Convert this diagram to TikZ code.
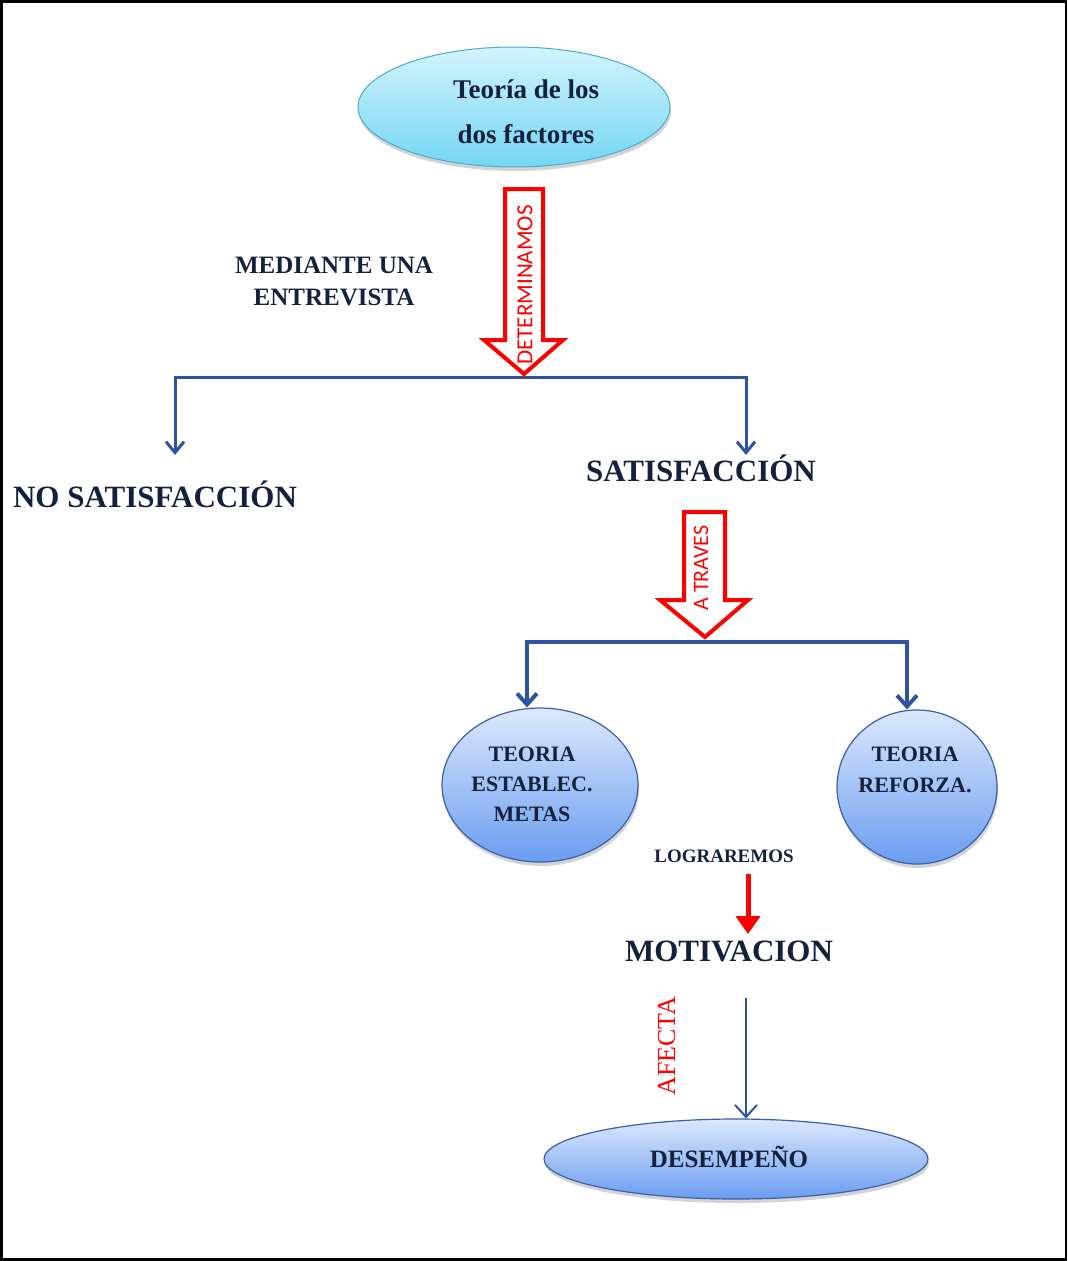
\documentclass[tikz,border=0pt]{standalone}
\usepackage{fontspec}
\setmainfont{Liberation Serif}
\newfontfamily\calibfont{Carlito}
\usetikzlibrary{shapes.geometric}
\usetikzlibrary{arrows.meta}
\usetikzlibrary{shadows}
\definecolor{navy}{HTML}{14213D}
\definecolor{linea}{HTML}{2E54A1}
\definecolor{cyanclaro}{HTML}{D2F4FD}
\definecolor{cyanoscuro}{HTML}{74D6F3}
\definecolor{cyanborde}{HTML}{4AABCB}
\definecolor{azulclaro}{HTML}{DCE8FC}
\definecolor{azuloscuro}{HTML}{6A9DF0}
\definecolor{azulborde}{HTML}{3A5FA8}

\begin{document}
\begin{tikzpicture}[x=1pt,y=-1pt,
    cian node/.style={ellipse,draw=cyanborde,line width=1pt,inner sep=0pt,top color=cyanclaro,bottom color=cyanoscuro,
      drop shadow={shadow xshift=1pt,shadow yshift=-4pt,opacity=0.35}},
    azul node/.style={ellipse,draw=azulborde,line width=1.2pt,inner sep=0pt,top color=azulclaro,bottom color=azuloscuro,
      drop shadow={shadow xshift=1pt,shadow yshift=-4pt,opacity=0.35},text=navy,align=center,font=\bfseries\fontsize{22}{30}\selectfont},
    texto/.style={text=navy,inner sep=0pt,align=center},
    grande/.style={text=navy,inner sep=0pt,anchor=base,font=\bfseries\fontsize{31}{35}\selectfont},
    hueco/.style={draw=red,line width=4pt,fill=white,line join=miter},
    vertical/.style={rotate=90,text=red,inner sep=0pt,font=\calibfont\fontsize{22}{22}\selectfont},
    rama/.style={draw=linea,line width=3pt,-{Straight Barb[length=11pt,width=18pt]}},
    rama gruesa/.style={draw=linea,line width=4pt,-{Straight Barb[length=11pt,width=20pt]}}]
  \useasboundingbox (0,0) rectangle (1068,1261);
  \draw[line width=2.5pt] (1.5,1.5) rectangle (1066,1259.5);

  % teoria y primera rama
  \node[cian node,minimum width=312pt,minimum height=120pt] (teoria) at (514,107) {};
  \node[texto,font=\bfseries\fontsize{27}{45}\selectfont] (teoriaTxt) at (526,112) {Teoría de los\\dos factores};
  \node[texto,font=\bfseries\fontsize{25}{32}\selectfont] (mediante) at (334,281) {MEDIANTE UNA\\ENTREVISTA};
  \coordinate (j1) at (524,377);
  \coordinate (noIn) at (175,455);
  \coordinate (siIn) at (746,455);
  \draw[rama] (j1) -| (noIn);
  \draw[rama] (j1) -| (siIn);
  \draw[hueco] (505,189) -- (543,189) -- (543,340) -- (563,340) -- (524,374) coordinate (punta1) -- (484,340) -- (505,340) -- cycle;
  \node[vertical,font=\calibfont\fontsize{23}{23}\selectfont] (determ) at (525,285) {DETERMINAMOS};
  \node[grande] (nosat) at (155,507) {NO SATISFACCIÓN};
  \node[grande] (sat) at (701,481) {SATISFACCIÓN};

  % segunda rama
  \node[azul node,minimum width=196pt,minimum height=154pt] (metas) at (540,785) {};
  \node[texto,font=\bfseries\fontsize{22}{30}\selectfont] (metasTxt) at (532,784) {TEORIA\\ESTABLEC.\\METAS};
  \node[azul node,minimum width=160pt,minimum height=154pt] (reforza) at (917,787) {};
  \node[texto,font=\bfseries\fontsize{22}{31}\selectfont] (reforzaTxt) at (915,770) {TEORIA\\REFORZA.};
  \coordinate (j2) at (705,642);
  \draw[rama gruesa] (j2) -| ([xshift=-13pt]metas.north);
  \draw[rama gruesa] (j2) -| ([xshift=-10pt]reforza.north);
  \draw[hueco] (684,512) -- (725,512) -- (725,600) -- (748,600) -- (705,637) coordinate (punta2) -- (660,600) -- (684,600) -- cycle;
  \node[vertical] (atraves) at (701,568) {A TRAVES};

  % motivacion y desempeno
  \node[texto,anchor=base,font=\bfseries\fontsize{19}{19}\selectfont] (lograr) at (724,862) {LOGRAREMOS};
  \coordinate (lograrOut) at (748,874);
  \coordinate (motivIn) at (748,934);
  \draw[red,line width=5pt,-{Triangle[length=18pt,width=24pt]}] (lograrOut) -- (motivIn);
  \node[grande] (motiv) at (729,961) {MOTIVACION};
  \node[azul node,minimum width=384pt,minimum height=80pt] (desemp) at (736,1159) {};
  \node[texto,font=\bfseries\fontsize{25}{30}\selectfont] (desempTxt) at (729,1157) {DESEMPEÑO};
  \coordinate (motivOut) at (746,998);
  \draw[linea,line width=2pt,-{Straight Barb[length=12pt,width=22pt]}] (motivOut) -- (motivOut |- desemp.north);
  \node[rotate=90,text=red,inner sep=0pt,anchor=base,font=\fontsize{26}{26}\selectfont] (afecta) at (675,1046) {AFECTA};
\end{tikzpicture}
\end{document}
